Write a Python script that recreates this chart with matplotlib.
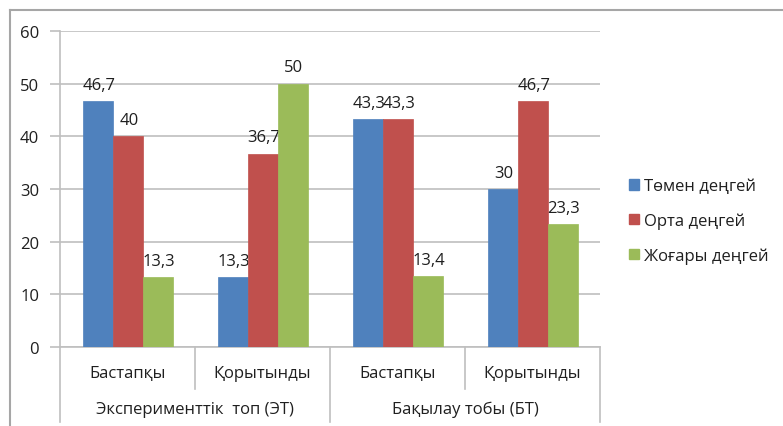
import matplotlib
matplotlib.use("Agg")
import matplotlib.pyplot as plt
from matplotlib.patches import Patch
from matplotlib.transforms import blended_transform_factory
from matplotlib.lines import Line2D
import numpy as np

plt.rcParams['font.family'] = ['Open Sans', 'Noto Sans', 'DejaVu Sans']

subcats = ["Бастапқы", "Қорытынды", "Бастапқы", "Қорытынды"]
groups = ["Эксперименттік  топ (ЭТ)", "Бақылау тобы (БТ)"]
series = ["Төмен деңгей", "Орта деңгей", "Жоғары деңгей"]
low = [46.7, 13.3, 43.3, 30]
mid = [40, 36.7, 43.3, 46.7]
high = [13.3, 50, 13.4, 23.3]
colors = ["#4F81BD", "#C0504D", "#9BBB59"]
yticks = [0, 10, 20, 30, 40, 50, 60]

fig = plt.figure(figsize=(7.83, 4.27), dpi=100)
ax = fig.add_axes([60/783, 79/427, 540/783, 316/427])

x = np.arange(len(subcats))
w = 30/135
grid_c = "#BFBFBF"
txt_c = "#1F1F1F"
fs = 12

for i, (vals, col) in enumerate(zip([low, mid, high], colors)):
    xs = x + (i - 1) * w
    ax.bar(xs, vals, width=w, color=col, zorder=3, edgecolor=col, linewidth=0.5)
    for xi, v in zip(xs, vals):
        s = ("%g" % v).replace(".", ",")
        ax.annotate(s, (xi, v), xytext=(1, 6), textcoords="offset points",
                    ha="center", va="bottom", fontsize=fs, color=txt_c)

ax.set_xlim(-0.5, 3.5)
ax.set_ylim(0, 60)
ax.set_yticks(yticks)
ax.set_yticklabels([str(t) for t in yticks], fontsize=fs, color=txt_c)
ax.yaxis.grid(True, color=grid_c, linewidth=1.2, zorder=0)
ax.set_axisbelow(True)
for sp in ["top", "right"]:
    ax.spines[sp].set_visible(False)
ax.spines["left"].set_color(grid_c)
ax.spines["left"].set_linewidth(1.2)
ax.spines["bottom"].set_color(grid_c)
ax.spines["bottom"].set_linewidth(1.2)
ax.tick_params(axis="y", length=7, color=grid_c, width=1.2, pad=8)
ax.set_xticks([])

tr = blended_transform_factory(ax.transData, ax.transAxes)
for b in [0.5, 2.5]:
    ax.add_line(Line2D([b, b], [0, -0.133], transform=tr, color=grid_c, lw=1.2, clip_on=False))
for b in [-0.5, 1.5, 3.5]:
    ax.add_line(Line2D([b, b], [0, -0.237], transform=tr, color=grid_c, lw=1.2, clip_on=False))
for xi, s in zip(x, subcats):
    ax.text(xi, -0.082, s, transform=tr, ha="center", va="center", fontsize=fs, color=txt_c)
for gi, s in enumerate(groups):
    ax.text(gi * 2 + 0.5, -0.196, s, transform=tr, ha="center", va="center", fontsize=fs, color=txt_c)

handles = [Patch(facecolor=c, edgecolor=c, label=s) for c, s in zip(colors, series)]
fig.legend(handles=handles, loc="center left", bbox_to_anchor=(614/783, 1 - 222/427),
           frameon=False, fontsize=fs, handlelength=0.6, handleheight=0.6,
           handletextpad=0.3, labelspacing=1.1, labelcolor=txt_c)

fig.add_artist(Line2D([10/783, 1], [1 - 11/427, 1 - 11/427], transform=fig.transFigure, color="#A6A6A6", lw=1.5))
fig.add_artist(Line2D([10/783, 10/783], [0, 1 - 11/427], transform=fig.transFigure, color="#A6A6A6", lw=1.5))

fig.savefig("out.png", dpi=100)
